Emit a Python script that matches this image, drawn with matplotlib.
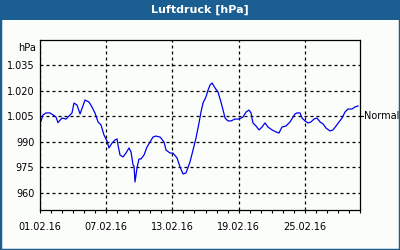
import matplotlib.pyplot as plt
from matplotlib.patches import Rectangle

# Tage seit 01.02.16 00:00 und Luftdruck in hPa
tage = [0, 0.27, 0.54, 0.91, 1.18, 1.45, 1.63, 1.99, 2.36, 2.54, 2.90, 3.08, 3.35, 3.63,
        4.08, 4.44, 4.71, 4.98, 5.26, 5.53, 5.80, 6.07, 6.25, 6.53, 6.80, 6.98, 7.07,
        7.25, 7.52, 7.79, 8.07, 8.25, 8.43, 8.52, 8.61, 8.79, 8.97, 9.15, 9.43, 9.70,
        9.97, 10.24, 10.51, 10.88, 11.24, 11.42, 11.78, 12.05, 12.42, 12.69, 12.96,
        13.23, 13.59, 13.87, 14.14, 14.41, 14.59, 14.77, 15.04, 15.23, 15.41, 15.59,
        15.86, 16.13, 16.40, 16.59, 16.77, 17.04, 17.31, 17.67, 18.04, 18.40, 18.67,
        18.94, 19.12, 19.30, 19.58, 19.85, 20.12, 20.39, 20.66, 21.03, 21.39, 21.66,
        21.93, 22.29, 22.66, 22.93, 23.11, 23.29, 23.56, 23.75, 24.02, 24.29, 24.56,
        24.83, 25.10, 25.38, 25.65, 25.92, 26.28, 26.55, 26.83, 27.10, 27.37, 27.64,
        27.91, 28.28, 28.55, 28.82]
druck = [1000.6, 1005.9, 1007.1, 1007.1, 1005.9, 1004.7, 1001.4, 1004.1, 1003.5, 1004.7,
         1007.1, 1012.9, 1011.8, 1006.5, 1014.7, 1013.5, 1010.6, 1007.1, 1001.8, 1000.0,
         994.1, 990.6, 986.5, 989.4, 991.2, 991.8, 988.2, 982.4, 981.2, 983.5, 986.5,
         984.1, 976.5, 975.9, 966.5, 974.7, 980.0, 980.0, 982.4, 987.1, 990.0, 992.9,
         993.5, 992.9, 990.0, 985.3, 983.5, 983.5, 980.6, 975.3, 971.2, 971.8, 978.2,
         985.3, 992.4, 1001.2, 1007.6, 1012.9, 1016.5, 1020.6, 1023.5, 1024.7, 1021.8,
         1019.4, 1013.5, 1008.8, 1004.1, 1002.4, 1002.4, 1003.5, 1003.5, 1004.7, 1007.6,
         1008.8, 1007.1, 1001.2, 999.4, 997.1, 998.8, 1001.2, 998.8, 997.1, 995.9, 995.3,
         998.8, 999.4, 1001.8, 1004.7, 1006.5, 1007.1, 1007.1, 1004.1, 1002.4, 1001.2,
         1001.8, 1003.5, 1004.1, 1001.8, 1000.6, 998.2, 996.5, 997.1, 999.4, 1001.8,
         1004.1, 1007.6, 1009.4, 1009.4, 1010.6, 1011.2]

y_ticks = [960, 975, 990, 1005, 1020, 1035]
y_labels = ['960', '975', '990', '1.005', '1.020', '1.035']
x_ticks = [0, 6, 12, 18, 24]
x_labels = ['01.02.16', '07.02.16', '13.02.16', '19.02.16', '25.02.16']
normal = 1005

bg = '#fbfdfb'
blau = '#1b5e92'

fig = plt.figure(figsize=(4, 2.5), dpi=100, facecolor=bg)

# Rahmen und Kopfzeile
fig.patches.append(Rectangle((0, 0), 1, 1, transform=fig.transFigure, fill=False,
                             edgecolor=blau, linewidth=2.5))
fig.patches.append(Rectangle((0, 0.92), 1, 0.08, transform=fig.transFigure,
                             facecolor=blau, edgecolor='none'))
fig.text(0.5, 0.96, 'Luftdruck [hPa]', color='white', fontsize=8, fontweight='bold',
         ha='center', va='center')

ax = fig.add_axes([0.1, 0.16, 0.8, 0.68], facecolor=bg)
ax.plot(tage, druck, color='#0000ee', linewidth=0.9)

ax.set_xlim(0, 29)
ax.set_ylim(950, 1050)
ax.set_yticks(y_ticks)
ax.set_yticklabels(y_labels)
ax.set_xticks(x_ticks)
ax.set_xticklabels(x_labels)
ax.set_xticks(range(30), minor=True)
ax.tick_params(axis='y', length=0, pad=4, labelsize=7)
ax.tick_params(axis='x', which='both', length=2.5, width=0.8, pad=6, labelsize=7,
               direction='out')
ax.grid(True, color='black', linestyle=(0, (2.4, 2.4)), linewidth=0.9)
for s in ax.spines.values():
    s.set_linewidth(0.9)

ax.text(-0.012, 0.985, 'hPa', transform=ax.transAxes, ha='right', va='top', fontsize=7)

# Normaldruck rechts
ax.plot([1.0, 1.01], [normal, normal], color='black', linewidth=0.8,
        transform=ax.get_yaxis_transform(), clip_on=False)
ax.text(1.012, normal, 'Normal', transform=ax.get_yaxis_transform(), ha='left',
        va='center', fontsize=7)

fig.savefig('out.png', dpi=100, facecolor=bg)
